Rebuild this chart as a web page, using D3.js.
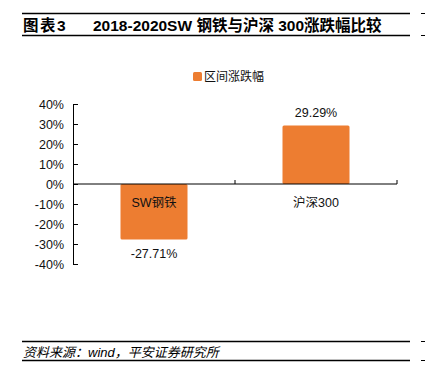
<!DOCTYPE html>
<html>
<head>
<meta charset="utf-8">
<script src="https://cdn.jsdelivr.net/npm/d3@7"></script>
<style>
body { margin: 0; background: #fff; }
text { font-family: "Liberation Sans", Arial, "Noto Sans CJK SC", sans-serif; }
</style>
</head>
<body>
<div id="chart"></div>
<script>
var categories = ["SW钢铁", "沪深300"];
var values = [-27.71, 29.29];
var yTicks = [40, 30, 20, 10, 0, -10, -20, -30, -40];
var seriesName = "区间涨跌幅";

var svg = d3.select("#chart")
    .append("svg")
    .attr("width", 425)
    .attr("height", 365);

// cadre titre
svg.append("line").attr("x1", 22).attr("x2", 410).attr("y1", 13.5).attr("y2", 13.5)
    .attr("stroke", "#000").attr("stroke-width", 1.3);
svg.append("line").attr("x1", 22).attr("x2", 410).attr("y1", 35.5).attr("y2", 35.5)
    .attr("stroke", "#000").attr("stroke-width", 1.3);
svg.append("line").attr("x1", 421).attr("x2", 425).attr("y1", 13.5).attr("y2", 13.5).attr("stroke", "#000");
svg.append("line").attr("x1", 421).attr("x2", 425).attr("y1", 35.5).attr("y2", 35.5).attr("stroke", "#000");
svg.append("text")
    .attr("x", 23).attr("y", 30.5)
    .attr("font-size", "15.5px").attr("font-weight", "bold")
    .attr("letter-spacing", "1.5px")
    .text("图表3");
svg.append("text")
    .attr("x", 93).attr("y", 30.5)
    .attr("font-size", "15.5px").attr("font-weight", "bold")
    .text("2018-2020SW 钢铁与沪深 300涨跌幅比较");

// pied de page
svg.append("line").attr("x1", 22).attr("x2", 410).attr("y1", 341.5).attr("y2", 341.5)
    .attr("stroke", "#000").attr("stroke-width", 1.3);
svg.append("line").attr("x1", 22).attr("x2", 410).attr("y1", 360.5).attr("y2", 360.5)
    .attr("stroke", "#000").attr("stroke-width", 1.3);
svg.append("line").attr("x1", 421).attr("x2", 425).attr("y1", 341.5).attr("y2", 341.5).attr("stroke", "#000");
svg.append("line").attr("x1", 421).attr("x2", 425).attr("y1", 360.5).attr("y2", 360.5).attr("stroke", "#000");
svg.append("text")
    .attr("x", 23).attr("y", 356.5)
    .attr("font-size", "13px").attr("font-style", "italic")
    .text("资料来源：wind，平安证券研究所");

var x = d3.scaleBand().domain(categories).range([73, 397]).paddingInner(0).paddingOuter(0);
var y = d3.scaleLinear().domain([-40, 40]).range([264, 104]);
var barW = 67;
var orange = "#ED7D31";

// barres
svg.selectAll("rect.bar")
    .data(values)
    .enter().append("rect")
    .attr("class", "bar")
    .attr("x", function (d, i) { return x(categories[i]) + x.bandwidth() / 2 - barW / 2; })
    .attr("y", function (d) { return y(Math.max(0, d)); })
    .attr("width", barW)
    .attr("height", function (d) { return Math.abs(y(d) - y(0)); })
    .attr("rx", 1.5)
    .attr("fill", orange);

// axe y
var yAxis = svg.append("g")
    .attr("transform", "translate(73,0)")
    .call(d3.axisRight(y).tickValues(yTicks).tickSize(5).tickFormat(function (d) { return d + "%"; }));
yAxis.select(".domain").attr("stroke", "#000");
yAxis.selectAll(".tick line").attr("stroke", "#000");
yAxis.selectAll(".tick text")
    .attr("x", -9)
    .attr("text-anchor", "end")
    .attr("font-size", "12.5px")
    .attr("fill", "#111")
    .style("font-family", "'Liberation Sans', Arial, sans-serif");

// axe x au niveau de zéro
var xAxis = svg.append("g")
    .attr("transform", "translate(0," + y(0) + ")");
xAxis.append("line")
    .attr("x1", 73).attr("x2", 397)
    .attr("y1", 0).attr("y2", 0)
    .attr("stroke", "#000");
xAxis.selectAll("line.tk")
    .data(categories)
    .enter().append("line")
    .attr("class", "tk")
    .attr("x1", function (d) { return x(d) + x.bandwidth(); })
    .attr("x2", function (d) { return x(d) + x.bandwidth(); })
    .attr("y1", 0).attr("y2", -4)
    .attr("stroke", "#000");
xAxis.selectAll("text")
    .data(categories)
    .enter().append("text")
    .attr("x", function (d) { return x(d) + x.bandwidth() / 2; })
    .attr("y", 23)
    .attr("text-anchor", "middle")
    .attr("font-size", "12.5px")
    .attr("fill", "#111")
    .text(function (d) { return d; });

// étiquettes de valeurs
svg.selectAll("text.val")
    .data(values)
    .enter().append("text")
    .attr("class", "val")
    .attr("x", function (d, i) { return x(categories[i]) + x.bandwidth() / 2; })
    .attr("y", function (d) { return d > 0 ? y(d) - 8 : y(d) + 19; })
    .attr("text-anchor", "middle")
    .attr("font-size", "12.5px")
    .attr("fill", "#111")
    .text(function (d) { return d.toFixed(2) + "%"; });

// légende
svg.append("rect")
    .attr("x", 193).attr("y", 72)
    .attr("width", 9).attr("height", 9)
    .attr("rx", 1.5)
    .attr("fill", orange);
svg.append("text")
    .attr("x", 204).attr("y", 81)
    .attr("font-size", "12px")
    .attr("fill", "#111")
    .text(seriesName);
</script>
</body>
</html>
